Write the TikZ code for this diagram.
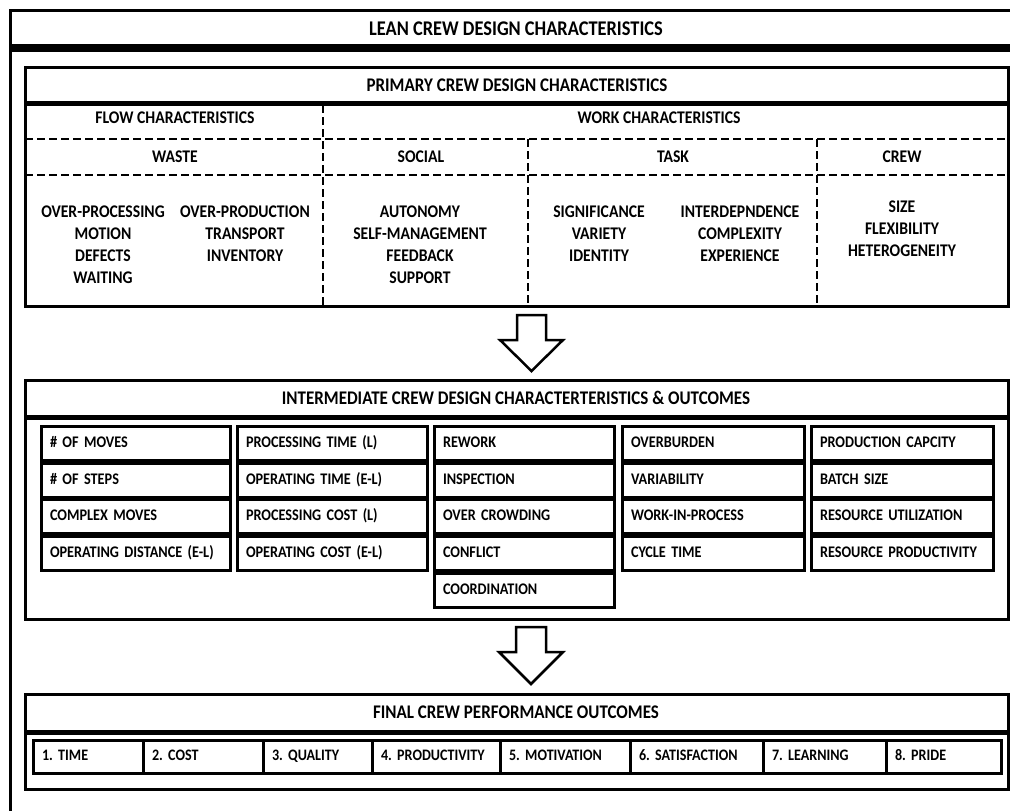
\documentclass[tikz,border=0pt]{standalone}
\usepackage{fontspec}
\setmainfont{Carlito}[FakeStretch=0.88]
\usetikzlibrary{positioning}

\begin{document}
\frenchspacing
\begin{tikzpicture}[x=1pt, y=-1pt,
  frame/.style={line width=3pt},
  rule/.style={line width=5pt},
  divider/.style={dash pattern=on 8pt off 4pt, line width=2.5pt},
  hdr/.style={font=\bfseries\fontsize{19.3}{22}\selectfont, inner sep=0pt},
  lbl/.style={font=\bfseries\fontsize{17.8}{22}\selectfont, inner sep=0pt, align=center},
  cell/.style={draw, line width=3pt, minimum height=34pt, inner xsep=9pt, inner ysep=0pt,
    text height=11pt, text depth=3pt, align=left, font=\bfseries\fontsize{16.2}{18}\selectfont},
  outcome/.style={draw, line width=3pt, minimum height=33pt, inner xsep=9pt, inner ysep=0pt,
    text height=11pt, text depth=3pt, align=left, font=\bfseries\fontsize{16}{18}\selectfont},
  bigarrow/.style={draw, line width=2.5pt, fill=white, line join=miter}]
  \useasboundingbox (0,0) rectangle (1010,811);
  % outer frame
  \draw[frame] (10,811) -- (10,10) -- (1010,10);
  \fill (10,44) rectangle (1010,52);
  \node[hdr, font=\bfseries\fontsize{20.9}{22}\selectfont] (lean) at (516,29) {LEAN CREW DESIGN CHARACTERISTICS};

  % primary characteristics
  \draw[frame] (25,67) rectangle (1008,306);
  \draw[rule] (25,103) -- (1008,103);
  \node[hdr] (prim) at (517,85) {PRIMARY CREW DESIGN CHARACTERISTICS};
  \draw[divider] (25,139) -- (1008,139);
  \draw[divider] (25,175) -- (1008,175);
  \draw[divider] (323,105) -- (323,306);
  \draw[divider] (528,139) -- (528,306);
  \draw[divider] (817,139) -- (817,306);
  \node[lbl] (flow) at (175,118) {FLOW CHARACTERISTICS};
  \node[lbl] (work) at (659,118) {WORK CHARACTERISTICS};
  \node[lbl] (waste) at (175,157) {WASTE};
  \node[lbl] (social) at (421,157) {SOCIAL};
  \node[lbl] (task) at (673,157) {TASK};
  \node[lbl] (crew) at (902,157) {CREW};
  \node[lbl] (wasteA) at (103,245) {OVER-PROCESSING\\MOTION\\DEFECTS\\WAITING};
  \node[lbl] (wasteB) at (245,234) {OVER-PRODUCTION\\TRANSPORT\\INVENTORY};
  \node[lbl] (socialA) at (420,245) {AUTONOMY\\SELF-MANAGEMENT\\FEEDBACK\\SUPPORT};
  \node[lbl] (taskA) at (599,234) {SIGNIFICANCE\\VARIETY\\IDENTITY};
  \node[lbl] (taskB) at (740,234) {INTERDEPNDENCE\\COMPLEXITY\\EXPERIENCE};
  \node[lbl] (crewA) at (902,229) {SIZE\\FLEXIBILITY\\HETEROGENEITY};

  \draw[bigarrow] (517,315) -- (546,315) -- (546,340) -- (563,340) -- (531.5,371)
    -- (500,340) -- (517,340) -- cycle;

  % intermediate characteristics
  \draw[frame] (25,380) rectangle (1008,619);
  \draw[rule] (25,417) -- (1008,417);
  \node[hdr] (inter) at (516,398) {INTERMEDIATE CREW DESIGN CHARACTERTERISTICS \& OUTCOMES};
  \foreach \t [count=\i] in {\# OF MOVES, \# OF STEPS, COMPLEX MOVES, OPERATING DISTANCE (E-L)}
    \node[cell, text width=171pt] (mv\i) at (135.5,406.6+36.75*\i) {\t};
  \foreach \t [count=\i] in {PROCESSING TIME (L), OPERATING TIME (E-L), PROCESSING COST (L), OPERATING COST (E-L)}
    \node[cell, text width=172pt] (tm\i) at (332,406.6+36.75*\i) {\t};
  \foreach \t [count=\i] in {REWORK, INSPECTION, OVER CROWDING, CONFLICT, COORDINATION}
    \node[cell, text width=162pt] (rw\i) at (524,406.6+36.75*\i) {\t};
  \foreach \t [count=\i] in {OVERBURDEN, VARIABILITY, WORK-IN-PROCESS, CYCLE TIME}
    \node[cell, text width=164pt] (ob\i) at (713,406.6+36.75*\i) {\t};
  \foreach \t [count=\i] in {PRODUCTION CAPCITY, BATCH SIZE, RESOURCE UTILIZATION, RESOURCE PRODUCTIVITY}
    \node[cell, text width=164pt] (pc\i) at (902,406.6+36.75*\i) {\t};

  \draw[bigarrow] (516,627) -- (546,627) -- (546,652) -- (563,652) -- (531,684)
    -- (499,652) -- (516,652) -- cycle;

  % final outcomes
  \draw[frame] (25,694) rectangle (1008,789);
  \draw[rule] (25,732) -- (1008,732);
  \node[hdr] (final) at (516,712) {FINAL CREW PERFORMANCE OUTCOMES};
  \foreach \a/\b/\t [count=\i, evaluate=\a as \tw using \b-\a-18] in {33/143/1. TIME,
      143/263/2. COST, 263/372/3. QUALITY, 372/500/4. PRODUCTIVITY, 500/630/5. MOTIVATION,
      630/763/6. SATISFACTION, 763/886/7. LEARNING, 886/1001/8. PRIDE}
    \node[outcome, text width=\tw pt] (out\i) at ({(\a+\b)/2},756.5) {\t};
\end{tikzpicture}
\end{document}
